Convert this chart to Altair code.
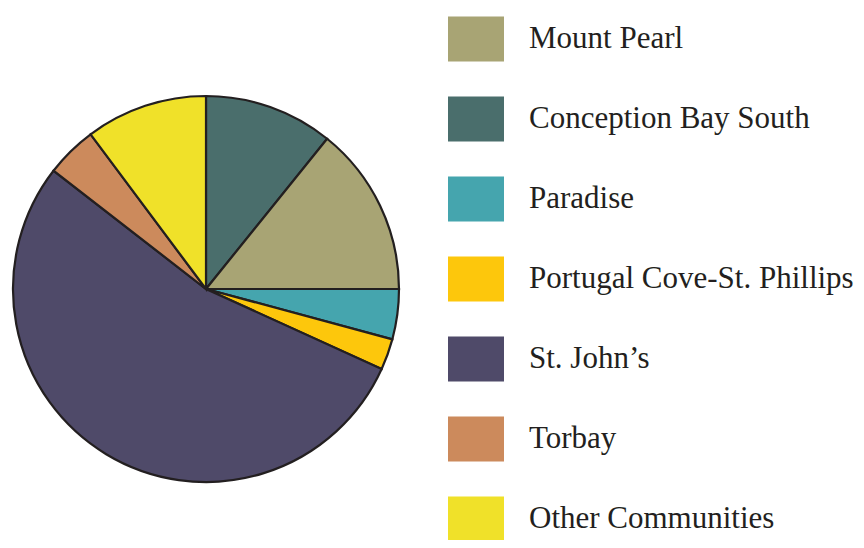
import altair as alt
import pandas as pd

# Slices in drawing order (clockwise from 12 o'clock)
communities = ["Conception Bay South", "Mount Pearl", "Paradise",
               "Portugal Cove-St. Phillips", "St. John\u2019s", "Torbay",
               "Other Communities"]
shares = [10.8, 14.2, 4.2, 2.6, 53.7, 4.3, 10.2]
draw_order = [1, 2, 3, 4, 5, 6, 7]

# Legend order and colours
legend_order = ["Mount Pearl", "Conception Bay South", "Paradise",
                "Portugal Cove-St. Phillips", "St. John\u2019s", "Torbay",
                "Other Communities"]
legend_colors = ["#A8A474", "#4A6E6C", "#45A5AE", "#FDC70C",
                 "#4F4A69", "#CC8A5C", "#F0E129"]

df = pd.DataFrame({"community": communities, "share": shares, "ord": draw_order})

chart = alt.Chart(df).mark_arc(
    radius=193, stroke="#231f20", strokeWidth=2.2
).encode(
    theta=alt.Theta("share:Q", stack=True),
    order=alt.Order("ord:Q"),
    x=alt.value(198),
    y=alt.value(281),
    color=alt.Color(
        "community:N",
        scale=alt.Scale(domain=legend_order, range=legend_colors),
        legend=alt.Legend(
            title=None,
            orient="none",
            legendX=440,
            legendY=3,
            padding=0,
            symbolType="M-1,-0.8H1V0.8H-1Z",
            symbolSize=3136,
            symbolStrokeWidth=0,
            symbolOpacity=1,
            labelFont="Liberation Serif",
            labelFontSize=31,
            labelColor="#231f20",
            labelOffset=25,
            labelLimit=400,
            rowPadding=29,
        ),
    ),
).properties(
    width=848, height=532,
    autosize=alt.AutoSizeParams(type="none"),
    padding=0,
).configure_view(stroke=None)

chart.save("out.html", embed_options={"renderer": "svg", "actions": False})
